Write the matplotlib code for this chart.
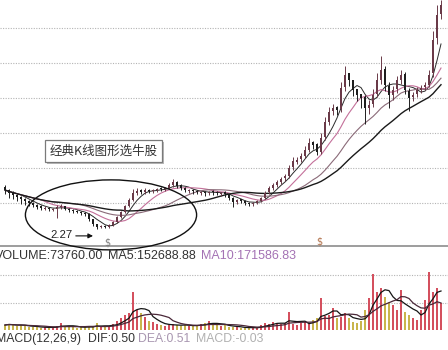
import matplotlib
matplotlib.use("Agg")
import matplotlib.pyplot as plt
import numpy as np
import pandas as pd
from matplotlib.patches import Ellipse, Rectangle

# Daily bars
opens = [3.45, 3.36, 3.30, 3.22, 3.18, 3.10, 3.07, 3.01, 2.95, 2.90,
         2.84, 2.87, 2.81, 2.84, 2.88, 2.90, 2.84, 2.80, 2.77, 2.74,
         2.72, 2.68, 2.53, 2.39, 2.30, 2.35, 2.31, 2.38, 2.47, 2.61,
         2.75, 2.92, 3.08, 3.28, 3.36, 3.30, 3.38, 3.33, 3.36, 3.42,
         3.39, 3.44, 3.50, 3.61, 3.50, 3.44, 3.35, 3.38, 3.35, 3.29,
         3.32, 3.28, 3.33, 3.32, 3.27, 3.30, 3.25, 3.15, 3.02, 3.10,
         3.07, 3.01, 2.96, 3.01, 3.07, 3.15, 3.30, 3.42, 3.52, 3.61,
         3.70, 3.78, 4.02, 4.18, 4.25, 4.35, 4.52, 4.73, 4.68, 4.45,
         4.88, 5.30, 5.62, 5.74, 5.68, 6.30, 6.70, 6.50, 6.25, 6.10,
         6.02, 5.70, 5.82, 6.10, 6.52, 6.82, 6.35, 6.08, 6.25, 6.50,
         6.68, 6.20, 6.02, 6.10, 6.22, 6.30, 6.38, 6.70, 7.70, 8.40]
closes = [3.37, 3.29, 3.23, 3.17, 3.11, 3.06, 3.00, 2.94, 2.89, 2.86,
          2.86, 2.83, 2.83, 2.89, 2.91, 2.83, 2.80, 2.77, 2.74, 2.71,
          2.69, 2.54, 2.40, 2.31, 2.34, 2.31, 2.37, 2.46, 2.60, 2.74,
          2.91, 3.09, 3.29, 3.34, 3.31, 3.37, 3.34, 3.37, 3.40, 3.40,
          3.43, 3.51, 3.60, 3.49, 3.43, 3.37, 3.37, 3.34, 3.31, 3.31,
          3.29, 3.31, 3.31, 3.29, 3.29, 3.26, 3.14, 3.03, 3.09, 3.06,
          3.00, 2.97, 3.00, 3.06, 3.14, 3.29, 3.43, 3.51, 3.60, 3.69,
          3.77, 4.00, 4.20, 4.23, 4.34, 4.51, 4.71, 4.66, 4.46, 4.86,
          5.31, 5.60, 5.71, 5.66, 6.29, 6.66, 6.51, 6.23, 6.09, 6.00,
          5.71, 5.80, 6.09, 6.51, 6.80, 6.37, 6.09, 6.23, 6.51, 6.66,
          6.23, 6.00, 6.09, 6.23, 6.29, 6.37, 6.66, 7.66, 8.37, 8.66]
highs = [3.52, 3.40, 3.33, 3.27, 3.20, 3.13, 3.09, 3.04, 2.98, 2.93,
         2.90, 2.89, 2.86, 2.93, 2.98, 2.92, 2.86, 2.82, 2.79, 2.76,
         2.75, 2.70, 2.55, 2.41, 2.37, 2.37, 2.40, 2.49, 2.63, 2.78,
         2.95, 3.14, 3.40, 3.42, 3.40, 3.42, 3.41, 3.41, 3.44, 3.45,
         3.47, 3.56, 3.68, 3.64, 3.53, 3.47, 3.41, 3.41, 3.38, 3.35,
         3.35, 3.34, 3.36, 3.35, 3.32, 3.33, 3.27, 3.17, 3.12, 3.12,
         3.09, 3.04, 3.03, 3.09, 3.18, 3.33, 3.48, 3.56, 3.66, 3.75,
         3.84, 4.08, 4.30, 4.32, 4.42, 4.62, 4.85, 4.76, 4.72, 5.00,
         5.45, 5.75, 5.82, 5.78, 6.45, 6.90, 6.65, 6.40, 6.22, 6.12,
         6.08, 5.95, 6.25, 6.70, 7.20, 6.90, 6.45, 6.35, 6.62, 6.80,
         6.75, 6.28, 6.18, 6.30, 6.36, 6.45, 6.80, 7.90, 8.65, 8.80]
lows = [3.25, 3.15, 3.10, 3.05, 2.98, 2.95, 2.92, 2.88, 2.84, 2.80,
        2.79, 2.78, 2.77, 2.56, 2.82, 2.79, 2.75, 2.72, 2.70, 2.67,
        2.64, 2.48, 2.34, 2.27, 2.28, 2.28, 2.29, 2.35, 2.44, 2.58,
        2.72, 2.89, 3.05, 3.22, 3.25, 3.26, 3.28, 3.28, 3.31, 3.35,
        3.35, 3.40, 3.46, 3.42, 3.36, 3.30, 3.28, 3.27, 3.25, 3.22,
        3.21, 3.22, 3.24, 3.22, 3.20, 3.18, 3.08, 2.88, 2.97, 3.00,
        2.95, 2.91, 2.92, 2.97, 3.03, 3.10, 3.25, 3.37, 3.46, 3.55,
        3.64, 3.72, 3.95, 4.10, 4.18, 4.28, 4.45, 4.55, 4.38, 4.40,
        4.80, 5.22, 5.50, 5.50, 5.60, 6.20, 6.35, 6.05, 5.90, 5.70,
        5.25, 5.55, 5.75, 6.02, 6.40, 6.20, 5.70, 5.95, 6.15, 6.40,
        6.10, 5.62, 5.90, 6.02, 6.15, 6.22, 6.30, 6.60, 7.55, 8.25]
volumes = [55000, 66000, 55000, 44000, 55000, 44000, 33000, 33000, 33000, 22000,
           33000, 22000, 33000, 44000, 77000, 44000, 33000, 33000, 22000, 33000,
           33000, 44000, 33000, 73760, 33000, 44000, 44000, 66000, 99000, 132000,
           165000, 187000, 418000, 220000, 187000, 143000, 99000, 88000, 66000, 55000,
           44000, 55000, 66000, 55000, 44000, 55000, 44000, 44000, 55000, 66000,
           77000, 99000, 66000, 55000, 44000, 55000, 33000, 33000, 33000, 22000,
           22000, 22000, 33000, 22000, 55000, 77000, 66000, 88000, 77000, 66000,
           77000, 198000, 66000, 55000, 77000, 88000, 66000, 110000, 132000, 352000,
           154000, 165000, 242000, 132000, 143000, 187000, 132000, 88000, 77000, 99000,
           220000, 352000, 616000, 418000, 462000, 363000, 308000, 275000, 220000, 440000,
           198000, 165000, 132000, 110000, 220000, 330000, 638000, 418000, 462000, 297000]

price_grid = [3, 4, 5, 6, 7, 8]
volume_grid = [300000, 600000]
low_label = "2.27"
callout = "经典K线图形选牛股"

W, H = 448, 350
fig = plt.figure(figsize=(W / 100, H / 100), dpi=100)
fig.patch.set_facecolor("white")


def fx(px):
    return px / W


def fy(py):
    return 1 - py / H


n = len(closes)
idx = np.arange(n)
o = np.array(opens)
c = np.array(closes)
hi = np.array(highs)
lo = np.array(lows)
up = c >= o

# ---- price panel ----
ax = fig.add_axes([0, fy(246), 1, 246 / H])
ax.set_xlim(-1.25, n + 0.75)
ax.set_ylim(1.771, 8.8)
for g in price_grid:
    ax.axhline(g, color="#b4b4b4", lw=0.8, ls=(0, (1, 1.3)), zorder=0)

up_col, dn_col = "#6a3a48", "#1e1e1e"
cols = np.where(up, up_col, dn_col)
ax.vlines(idx, lo, hi, colors=cols, lw=0.7, zorder=3)
body_lo = np.minimum(o, c)
body_h = np.maximum(np.abs(c - o), 0.012)
ax.bar(idx, body_h, bottom=body_lo, width=0.55, color=cols, lw=0, zorder=3)

s = pd.Series(closes)
ma_styles = [(5, "#2a2a2a", 0.7), (10, "#c4709a", 0.8), (20, "#8a6a78", 0.8), (30, "#1a1a1a", 1.0)]
for win, col, lw in ma_styles:
    ax.plot(idx, s.rolling(win, min_periods=1).mean(), color=col, lw=lw, zorder=2)

for sp in ["top", "left", "right"]:
    ax.spines[sp].set_visible(False)
ax.spines["bottom"].set_color("#8c8c8c")
ax.spines["bottom"].set_linewidth(1.2)
ax.set_xticks([])
ax.set_yticks([])

# circled bottom region
ax.add_patch(Ellipse((26.5, 2.66), 42.8, 2.0, fill=False, ec="#111111", lw=1.0,
                     clip_on=False, zorder=4))

# low annotation
low_i = int(np.argmin(lo))
ax.annotate("", xy=(low_i - 0.3, 2.06), xytext=(17.0, 2.06),
            arrowprops=dict(arrowstyle="-|>", color="#111111", lw=0.8,
                            mutation_scale=7), annotation_clip=False)
ax.text(14.2, 2.09, low_label, fontsize=8.2, family="Liberation Sans",
        color="#222222", ha="center", va="center")

# signal marks
ax.text(25.7, 1.87, "\\$", fontsize=7, color="#7a7a7a", ha="center", va="center",
        family="DejaVu Sans")
ax.text(78.5, 1.90, "\\$", fontsize=7, color="#b0704a", ha="center", va="center",
        family="DejaVu Sans")

# callout box with drop shadow
fig.add_artist(Rectangle((fx(47), fy(164)), 117 / W, 22 / H, transform=fig.transFigure,
                         fc="#9a9a9a", ec="none", alpha=0.7, zorder=5))
fig.add_artist(Rectangle((fx(45), fy(162)), 117 / W, 22 / H, transform=fig.transFigure,
                         fc="white", ec="#7a7a7a", lw=0.9, zorder=6))
fig.text(fx(103.5), fy(151), callout, fontsize=9, color="#333333",
         family=["Noto Sans CJK SC", "DejaVu Sans"], ha="center", va="center", zorder=7)

# ---- volume panel ----
vax = fig.add_axes([0, fy(332), 1, 70 / H])
vax.set_xlim(-1.25, n + 0.75)
vax.set_ylim(-22000, 748000)
for g in volume_grid:
    vax.axhline(g, color="#b4b4b4", lw=0.8, ls=(0, (1, 1.3)), zorder=0)
v = np.array(volumes)
vcols = np.where(up, "#d4505e", "#c9b54c")
vax.bar(idx, v, width=0.6, color=vcols, lw=0, zorder=2)
vs = pd.Series(volumes)
vax.plot(idx, vs.rolling(5, min_periods=1).mean(), color="#151515", lw=0.9, zorder=3)
vax.plot(idx, vs.rolling(10, min_periods=1).mean(), color="#4a2838", lw=0.9, zorder=3)
vax.axis("off")

# ---- panel headers ----
vol_hdr = dict(fontsize=9, family="Liberation Sans", va="center")
fig.text(fx(-5), fy(256), "VOLUME:73760.00", color="#333333", **vol_hdr)
fig.text(fx(108), fy(256), "MA5:152688.88", color="#333333", **vol_hdr)
fig.text(fx(201), fy(256), "MA10:171586.83", color="#a472b4", **vol_hdr)
macd_hdr = dict(fontsize=8.8, family="Liberation Sans", va="center")
fig.text(fx(-4), fy(339), "MACD(12,26,9)", color="#333333", **macd_hdr)
fig.text(fx(88), fy(339), "DIF:0.50", color="#333333", **macd_hdr)
fig.text(fx(138), fy(339), "DEA:0.51", color="#a896b0", **macd_hdr)
fig.text(fx(196), fy(339), "MACD:-0.03", color="#b0b0b0", **macd_hdr)

fig.savefig("out.png", dpi=100, facecolor="white")
